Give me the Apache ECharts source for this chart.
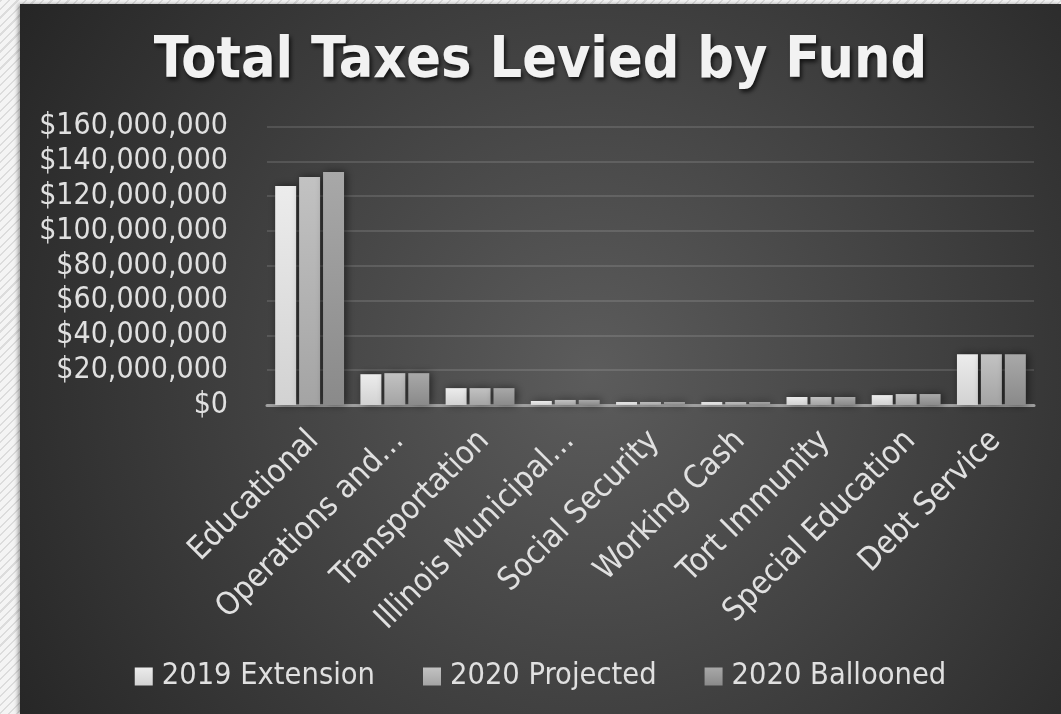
<!DOCTYPE html>
<html>
<head>
<meta charset="utf-8">
<script src="https://cdn.jsdelivr.net/npm/echarts@6/dist/echarts.min.js"></script>
<style>
html,body{margin:0;padding:0;width:1061px;height:714px;overflow:hidden;}
body{background:repeating-linear-gradient(135deg,#dcdcdc 0px,#dcdcdc 1.5px,#f4f4f4 1.5px,#f4f4f4 6px);}
#chart{position:absolute;left:20px;top:4px;width:1041px;height:710px;box-shadow:-2px 0 4px rgba(0,0,0,0.35);}
</style>
</head>
<body>
<div id="chart"></div>
<script>
const categories = ['Educational','Operations and…','Transportation','Illinois Municipal…','Social Security','Working Cash','Tort Immunity','Special Education','Debt Service'];
const seriesNames = ['2019 Extension','2020 Projected','2020 Ballooned'];
const ext2019 = [125900000, 17700000, 9700000, 2300000, 1700000, 1700000, 4600000, 5700000, 29100000];
const proj2020 = [131000000, 18300000, 9700000, 2900000, 1700000, 1700000, 4600000, 6300000, 29100000];
const ball2020 = [133900000, 18300000, 9700000, 2900000, 1700000, 1700000, 4600000, 6300000, 29100000];
const yTicks = {min: 0, max: 160000000, interval: 20000000};

const FONT = '"DejaVu Sans Condensed","DejaVu Sans",sans-serif';
function grad(top, bottom) {
  return new echarts.graphic.LinearGradient(0, 0, 0, 1, [{offset: 0, color: top}, {offset: 1, color: bottom}]);
}
const colors = [grad('#ececec', '#d2d2d2'), grad('#c2c2c2', '#a4a4a4'), grad('#a8a8a8', '#8a8a8a')];
const dataSets = [ext2019, proj2020, ball2020];

const chart = echarts.init(document.getElementById('chart'), null, {renderer: 'canvas'});
chart.setOption({
  backgroundColor: new echarts.graphic.RadialGradient(0.55, 0.52, 0.95, [
    {offset: 0, color: '#5c5c5c'},
    {offset: 1, color: '#262626'}
  ]),
  animation: false,
  title: {
    text: 'Total Taxes Levied by Fund',
    left: 'center',
    top: 25,
    textStyle: {
      fontFamily: FONT, fontWeight: 'bold', fontSize: 57, lineHeight: 57, color: '#f2f2f2',
      textShadowColor: 'rgba(0,0,0,0.7)', textShadowBlur: 4, textShadowOffsetX: 2, textShadowOffsetY: 3
    }
  },
  legend: {
    data: seriesNames,
    top: 652,
    left: 'center',
    itemWidth: 18,
    itemHeight: 18,
    itemGap: 48,
    icon: 'rect',
    itemStyle: {shadowBlur: 0, shadowColor: 'transparent', borderWidth: 0},
    textStyle: {fontFamily: FONT, fontSize: 30.5, color: '#e0e0e0', padding: [0, 0, 0, 4]}
  },
  grid: {left: 247, right: 27, top: 122.6, bottom: 309, containLabel: false},
  xAxis: {
    type: 'category',
    data: categories,
    axisLine: {show: true, lineStyle: {color: '#a0a0a0', width: 3}},
    axisTick: {show: false},
    axisLabel: {
      interval: 0, rotate: 45, margin: 24, verticalAlign: 'top', lineHeight: 16,
      padding: [0, 2, 0, 0],
      fontFamily: FONT, fontSize: 32, color: '#e0e0e0'
    }
  },
  yAxis: {
    type: 'value',
    min: yTicks.min, max: yTicks.max, interval: yTicks.interval,
    axisLine: {show: false},
    axisTick: {show: false},
    splitLine: {lineStyle: {color: 'rgba(255,255,255,0.12)', width: 2}},
    axisLabel: {
      margin: 39, fontFamily: FONT, fontSize: 30, color: '#e0e0e0',
      formatter: v => '$' + v.toLocaleString('en-US')
    }
  },
  series: seriesNames.map((name, i) => ({
    name: name,
    type: 'bar',
    data: dataSets[i],
    barWidth: 21,
    barGap: '14%',
    itemStyle: {
      color: colors[i],
      shadowColor: 'rgba(0,0,0,0.55)', shadowBlur: 8, shadowOffsetX: 2, shadowOffsetY: 0
    }
  }))
});
</script>
</body>
</html>
